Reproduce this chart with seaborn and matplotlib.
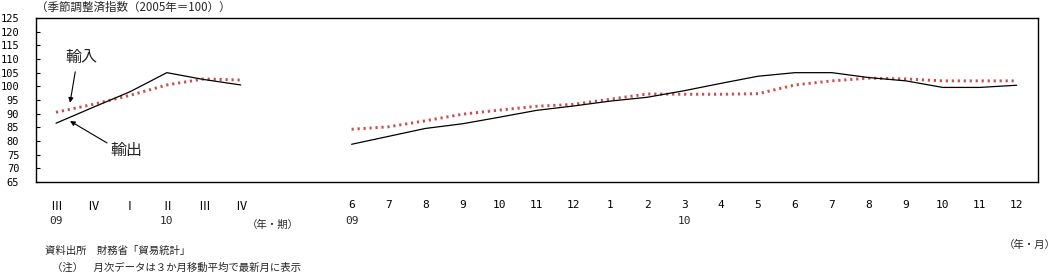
import numpy as np
import pandas as pd
import matplotlib
matplotlib.use("Agg")
import matplotlib.pyplot as plt
import matplotlib.transforms as mtransforms
import seaborn as sns

# ---- data ----
quarter_labels = ["Ⅲ", "Ⅳ", "Ⅰ", "Ⅱ", "Ⅲ", "Ⅳ"]
quarter_years = {0: "09", 3: "10"}
export_q = [86.5, 92.3, 98.0, 105.0, 102.5, 100.5]
import_q = [90.5, 93.4, 96.7, 100.5, 102.7, 102.3]

month_labels = ["6", "7", "8", "9", "10", "11", "12", "1", "2", "3",
                "4", "5", "6", "7", "8", "9", "10", "11", "12"]
month_years = {0: "09", 9: "10"}
export_m = [78.8, 81.7, 84.6, 86.3, 88.7, 91.2, 92.8, 94.6, 96.0, 98.4,
            101.1, 103.7, 105.0, 105.0, 103.2, 102.0, 99.6, 99.6, 100.4]
import_m = [84.3, 85.2, 87.4, 89.8, 91.3, 92.7, 93.4, 95.3, 97.2, 97.1,
            97.1, 97.3, 100.5, 102.0, 103.0, 102.7, 102.0, 102.0, 102.0]

yticks = list(range(65, 130, 5))

sns.set_theme(style="white")
plt.rcParams["font.family"] = ["Noto Sans CJK JP", "DejaVu Sans"]

W, H = 1058, 275
fig = plt.figure(figsize=(W / 100, H / 100), dpi=100)
ax = fig.add_axes([36 / W, 1 - 182 / H, (1038 - 36) / W, (182 - 18) / H])

xq = np.arange(len(export_q))
xm = 8 + np.arange(len(export_m))
dq = pd.DataFrame({"x": xq, "exp": export_q, "imp": import_q})
dm = pd.DataFrame({"x": xm, "exp": export_m, "imp": import_m})

red = "#C8504E"
for d in (dq, dm):
    sns.lineplot(data=d, x="x", y="imp", ax=ax, color=red, lw=2.1,
                 linestyle=(0, (0.75, 1.3)), legend=False)
    sns.lineplot(data=d, x="x", y="exp", ax=ax, color="black", lw=0.9,
                 legend=False)

unit = 36.95
ax.set_xlim((36 - 56) / unit, (1038 - 56) / unit)
ax.set_ylim(65, 125)
ax.set_xlabel("")
ax.set_ylabel("")

for s in ax.spines.values():
    s.set_visible(True)
    s.set_color("black")
    s.set_linewidth(1.0)

ax.set_yticks(yticks)
ax.set_yticklabels([str(v) for v in yticks], family="DejaVu Sans Mono",
                   fontsize=7.5)
ax.tick_params(axis="y", direction="in", length=3, width=0.8, pad=12,
               left=True, colors="black")

ax.set_xticks(list(xq) + list(xm))
ax.set_xticklabels(quarter_labels + month_labels, fontsize=8.5)
ax.tick_params(axis="x", length=0, pad=13, colors="black")
for lab in ax.get_xticklabels()[len(xq):]:
    lab.set_family("DejaVu Sans Mono")
    lab.set_fontsize(8)

trans = mtransforms.blended_transform_factory(ax.transData, fig.transFigure)
for i, t in quarter_years.items():
    ax.text(xq[i], 1 - 221 / H, t, transform=trans, ha="center",
            va="center", fontsize=8, family="DejaVu Sans Mono")
for i, t in month_years.items():
    ax.text(xm[i], 1 - 221 / H, t, transform=trans, ha="center",
            va="center", fontsize=8, family="DejaVu Sans Mono")

fig.text(36 / W, 1 - 7 / H, "（季節調整済指数（2005年＝100））", fontsize=8.3,
         ha="left", va="center")
fig.text(273 / W, 1 - 225 / H, "（年・期）", fontsize=7.5, ha="center",
         va="center")
fig.text(1056 / W, 1 - 245 / H, "（年・月）", fontsize=7.5, ha="right",
         va="center")
fig.text(45 / W, 1 - 251 / H, "資料出所　財務省「貿易統計」", fontsize=7.5,
         ha="left", va="center")
fig.text(52 / W, 1 - 268 / H, "（注）　月次データは３か月移動平均で最新月に表示",
         fontsize=7.5, ha="left", va="center")

# annotations
ax.text(0.68, 110.4, "輸入", fontsize=11.5, ha="center", va="center")
ax.annotate("", xy=(0.38, 94.0), xytext=(0.52, 105.3),
            arrowprops=dict(arrowstyle="-|>", color="black", lw=0.8,
                            mutation_scale=7, shrinkA=0, shrinkB=0))
ax.text(1.9, 76.7, "輸出", fontsize=11.5, ha="center", va="center")
ax.annotate("", xy=(0.38, 87.3), xytext=(1.38, 79.3),
            arrowprops=dict(arrowstyle="-|>", color="black", lw=0.8,
                            mutation_scale=7, shrinkA=0, shrinkB=0))

fig.savefig("out.png", dpi=100)
